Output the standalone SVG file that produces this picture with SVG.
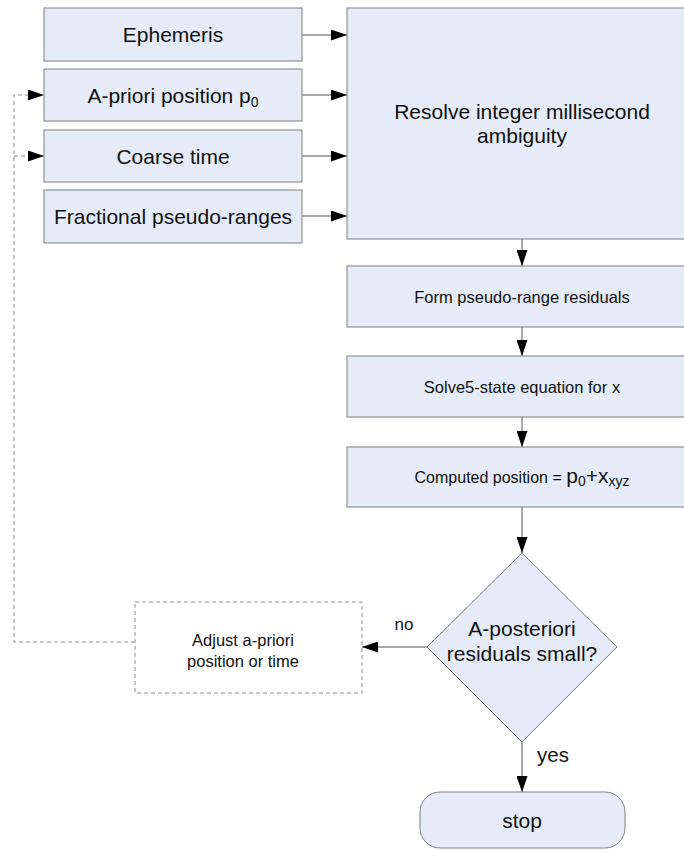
<svg xmlns="http://www.w3.org/2000/svg" width="684" height="850" viewBox="0 0 684 850">
<style>
.box{fill:#e6ecf7;stroke:#7f7f7f;stroke-width:1}
.dbox{fill:#ffffff;stroke:#8c8c8c;stroke-width:1;stroke-dasharray:4 3}
.t{font-family:"Liberation Sans",Arial,sans-serif;fill:#111111;text-anchor:middle}
.l{font-size:21px}
.s{font-size:16.5px}
.c{stroke:#555555;stroke-width:1;fill:none}
.d{stroke:#8c8c8c;stroke-width:1;fill:none;stroke-dasharray:4 3}
</style>
<defs>
<marker id="arr" markerWidth="16" markerHeight="11" refX="16" refY="5.5" orient="auto" markerUnits="userSpaceOnUse">
<path d="M0,0 L16,5.5 L0,11 z" fill="#000000"/>
</marker>
</defs>
<rect width="684" height="850" fill="#ffffff"/>
<g id="connectors">
<line class="c" x1="302" y1="35" x2="347" y2="35" marker-end="url(#arr)"/>
<line class="c" x1="302" y1="95" x2="347" y2="95" marker-end="url(#arr)"/>
<line class="c" x1="302" y1="156" x2="347" y2="156" marker-end="url(#arr)"/>
<line class="c" x1="302" y1="216" x2="347" y2="216" marker-end="url(#arr)"/>
<line class="c" x1="522" y1="239" x2="522" y2="266" marker-end="url(#arr)"/>
<line class="c" x1="522" y1="327" x2="522" y2="356" marker-end="url(#arr)"/>
<line class="c" x1="522" y1="417" x2="522" y2="447" marker-end="url(#arr)"/>
<line class="c" x1="522" y1="507" x2="522" y2="553" marker-end="url(#arr)"/>
<line class="c" x1="427" y1="647" x2="362" y2="647" marker-end="url(#arr)"/>
<line class="c" x1="522" y1="742" x2="522" y2="792" marker-end="url(#arr)"/>
<path class="d" d="M135,642 H14 V95 H44" marker-end="url(#arr)"/>
<path class="d" d="M14,156 H44" marker-end="url(#arr)"/>
<text class="t" x="404" y="630" style="font-size:17px">no</text>
<text class="t" x="553" y="762" style="font-size:20.5px">yes</text>
</g>
<g id="ephemeris">
<rect class="box" x="44" y="8" width="258" height="53"/>
<text class="t l" x="173" y="42">Ephemeris</text>
</g>
<g id="apriori">
<rect class="box" x="44" y="69" width="258" height="52"/>
<text class="t l" x="173" y="102.5">A-priori position p<tspan style="font-size:14px" dy="4">0</tspan></text>
</g>
<g id="coarse">
<rect class="box" x="44" y="130" width="258" height="52"/>
<text class="t l" x="173" y="163.5">Coarse time</text>
</g>
<g id="fractional">
<rect class="box" x="44" y="190" width="258" height="53"/>
<text class="t l" x="173" y="224">Fractional pseudo-ranges</text>
</g>
<g id="resolve">
<rect class="box" x="347" y="8" width="353" height="231"/>
<text class="t l" x="522" y="119">Resolve integer millisecond</text>
<text class="t l" x="522" y="143">ambiguity</text>
</g>
<g id="form">
<rect class="box" x="347" y="266" width="353" height="61"/>
<text class="t s" x="522" y="302.5">Form pseudo-range residuals</text>
</g>
<g id="solve">
<rect class="box" x="347" y="356" width="353" height="61"/>
<text class="t s" x="522" y="392.5">Solve5-state equation for x</text>
</g>
<g id="computed">
<rect class="box" x="347" y="447" width="353" height="60"/>
<text class="t" x="522" y="483" style="font-size:16px">Computed position = <tspan style="font-size:21px">p</tspan><tspan style="font-size:14px" dy="3">0</tspan><tspan style="font-size:21px" dy="-3">+x</tspan><tspan style="font-size:14px" dy="3">xyz</tspan></text>
</g>
<g id="decision">
<polygon class="box" points="522,553 617,647 522,742 427,647"/>
<text class="t l" x="522" y="636">A-posteriori</text>
<text class="t l" x="522" y="661">residuals small?</text>
</g>
<g id="adjust">
<rect class="dbox" x="135" y="602" width="227" height="91"/>
<text class="t s" x="243" y="646">Adjust a-priori</text>
<text class="t s" x="243" y="667">position or time</text>
</g>
<g id="stop">
<rect class="box" x="420" y="792" width="205" height="56" rx="20" ry="20"/>
<text class="t l" x="522" y="828">stop</text>
</g>
</svg>
